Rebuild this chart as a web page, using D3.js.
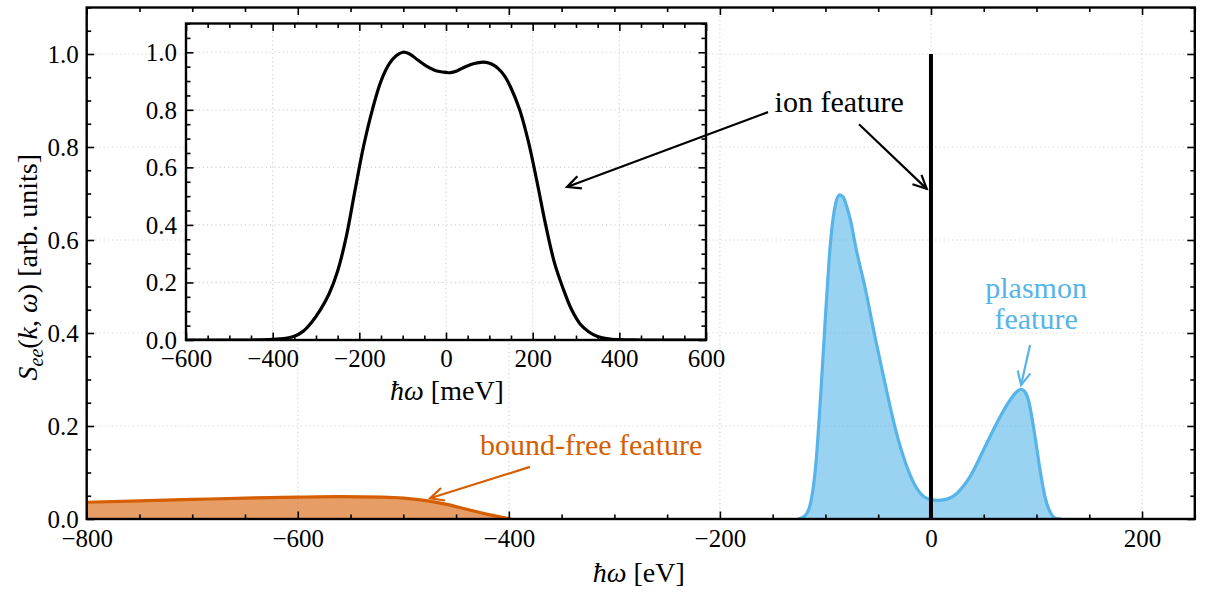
<!DOCTYPE html>
<html><head><meta charset="utf-8">
<script src="https://cdn.jsdelivr.net/npm/d3@7"></script>
<style>
html,body{margin:0;padding:0;background:#fff;}
svg{display:block;}
svg text{font-family:"Liberation Serif","DejaVu Serif",serif;}
</style></head>
<body><svg id="c" width="1208" height="592"></svg>
<script>
// ---------- data ----------
const mainXTicks = [-800, -600, -400, -200, 0, 200];
const mainYTicks = [0, 0.2, 0.4, 0.6, 0.8, 1.0];
const insetXTicks = [-600, -400, -200, 0, 200, 400, 600];
const insetYTicks = [0, 0.2, 0.4, 0.6, 0.8, 1.0];

// bound-free feature (eV, S)
const boundFreeX = [-800, -750, -700, -650, -600, -560, -520, -500, -480, -460, -440, -420, -405, -398];
const boundFreeY = [0.036, 0.039, 0.042, 0.045, 0.047, 0.048, 0.047, 0.045, 0.040, 0.032, 0.021, 0.010, 0.003, 0.0];

// plasmon feature (eV, S)
const plasmonX = [-126, -119, -115, -112, -109, -104.6, -99.8, -95, -90.3, -86.5, -83, -80.8, -76, -71.4, -61.9, -52.4, -42.9, -33.4, -24, -14.5, -3.5, 6, 11.8, 24.4, 37, 49.7, 62.3, 75, 82, 85.1, 88.5, 92.3, 98.6, 103.4, 108, 114.4, 119, 124];
const plasmonY = [0, 0.008, 0.026, 0.06, 0.12, 0.263, 0.442, 0.6, 0.679, 0.697, 0.692, 0.679, 0.64, 0.586, 0.492, 0.385, 0.285, 0.191, 0.12, 0.07, 0.044, 0.040, 0.041, 0.055, 0.091, 0.148, 0.206, 0.256, 0.275, 0.279, 0.275, 0.256, 0.177, 0.105, 0.048, 0.009, 0.001, 0];

// ion feature (delta-like line at 0 eV)
const ionX = [0, 0];
const ionY = [0, 1.0];

// inset: ion feature (meV, S)
const insetX = [-600, -450, -400, -370, -350, -330, -310, -290, -270, -250, -230, -210, -190, -170, -150, -130, -115, -100, -85, -65, -45, -25, 0, 10, 25, 45, 65, 80, 92, 105, 120, 135, 150, 170, 190, 210, 230, 250, 270, 290, 310, 330, 350, 370, 400, 450, 600];
const insetY = [0, 0, 0.002, 0.006, 0.013, 0.03, 0.062, 0.105, 0.16, 0.24, 0.36, 0.52, 0.675, 0.80, 0.90, 0.962, 0.988, 1.0, 0.995, 0.973, 0.952, 0.937, 0.930, 0.929, 0.935, 0.950, 0.961, 0.965, 0.965, 0.959, 0.944, 0.918, 0.876, 0.80, 0.69, 0.55, 0.40, 0.27, 0.18, 0.105, 0.055, 0.028, 0.012, 0.005, 0.001, 0, 0];

// ---------- colours ----------
const ORANGE = "#D55E00", BLUE = "#56B4E9";

// ---------- layout ----------
const svg = d3.select("#c");
const M = {l: 86.7, r: 1194.8, t: 7.5, b: 519};
const I = {l: 186, r: 706, t: 23.5, b: 340};

const x = d3.scaleLinear().domain([-800, 250]).range([M.l, M.r]);
const y = d3.scaleLinear().domain([0, 1.1]).range([M.b, M.t]);
const xi = d3.scaleLinear().domain([-600, 600]).range([I.l, I.r]);
const yi = d3.scaleLinear().domain([0, 1.1]).range([I.b, I.t]);

const defs = svg.append("defs");
defs.append("clipPath").attr("id", "clipM").append("rect")
  .attr("x", M.l).attr("y", M.t).attr("width", M.r - M.l).attr("height", M.b - M.t);
defs.append("clipPath").attr("id", "clipI").append("rect")
  .attr("x", I.l).attr("y", I.t).attr("width", I.r - I.l).attr("height", I.b - I.t);

const GRID = "#d2d2d2";
function grid(g, xs, ys, xt, yt, box) {
  g.selectAll(".gx").data(xt).join("line")
    .attr("x1", d => xs(d)).attr("x2", d => xs(d)).attr("y1", box.t).attr("y2", box.b)
    .attr("stroke", GRID).attr("stroke-width", 1.2).attr("stroke-dasharray", "1.2,3");
  g.selectAll(".gy").data(yt).join("line")
    .attr("y1", d => ys(d)).attr("y2", d => ys(d)).attr("x1", box.l).attr("x2", box.r)
    .attr("stroke", GRID).attr("stroke-width", 1.2).attr("stroke-dasharray", "1.2,3");
}

grid(svg.append("g"), x, y, mainXTicks, mainYTicks, M);

const zipBF = boundFreeX.map((d, i) => [d, boundFreeY[i]]);
const zipPl = plasmonX.map((d, i) => [d, plasmonY[i]]);
const zipIn = insetX.map((d, i) => [d, insetY[i]]);

const plot = svg.append("g").attr("clip-path", "url(#clipM)");
const curve = d3.curveMonotoneX;
plot.append("path").datum(zipBF)
  .attr("d", d3.area().x(d => x(d[0])).y0(y(0)).y1(d => y(d[1])).curve(curve))
  .attr("fill", ORANGE).attr("fill-opacity", 0.6);
plot.append("path").datum(zipBF)
  .attr("d", d3.line().x(d => x(d[0])).y(d => y(d[1])).curve(curve))
  .attr("fill", "none").attr("stroke", ORANGE).attr("stroke-width", 3.2);
plot.append("path").datum(zipPl)
  .attr("d", d3.area().x(d => x(d[0])).y0(y(0)).y1(d => y(d[1])).curve(curve))
  .attr("fill", BLUE).attr("fill-opacity", 0.6);
plot.append("path").datum(zipPl)
  .attr("d", d3.line().x(d => x(d[0])).y(d => y(d[1])).curve(curve))
  .attr("fill", "none").attr("stroke", BLUE).attr("stroke-width", 3.2);
plot.append("line")
  .attr("x1", x(ionX[0])).attr("x2", x(ionX[1])).attr("y1", y(ionY[0])).attr("y2", y(ionY[1]))
  .attr("stroke", "#000").attr("stroke-width", 4);

const minus = s => s.replace("-", "\u2212");
function axes(g, xs, ys, box, xt, yt, xMinorStep, yMinorStep, xlabOff, ylabOff, fs) {
  const [x0, x1] = xs.domain(), [y0, y1] = ys.domain();
  const xm = d3.range(Math.ceil(x0 / xMinorStep) * xMinorStep, x1 + 1e-9, xMinorStep).filter(v => !xt.some(t => Math.abs(t - v) < 1e-9));
  const ym = d3.range(0, y1 + 1e-9, yMinorStep).filter(v => !yt.some(t => Math.abs(t - v) < 1e-9));
  const MAJ = 7.5, MIN = 4.5;
  const addAx = (axis, tr) => {
    const a = g.append("g").attr("transform", tr).call(axis);
    a.attr("font-family", null).attr("font-size", null);
    a.select(".domain").remove();
    a.selectAll(".tick line").attr("stroke", "#000").attr("stroke-width", 1.6);
    return a;
  };
  const b = addAx(d3.axisBottom(xs).tickValues(xt).tickSize(-MAJ).tickFormat(d => minus(d3.format("d")(d))), `translate(0,${box.b})`);
  b.selectAll(".tick text").attr("y", xlabOff).attr("dy", null).attr("font-size", fs).attr("fill", "#000");
  addAx(d3.axisBottom(xs).tickValues(xm).tickSize(-MIN).tickFormat(""), `translate(0,${box.b})`);
  addAx(d3.axisTop(xs).tickValues(xt).tickSize(-MAJ).tickFormat(""), `translate(0,${box.t})`);
  addAx(d3.axisTop(xs).tickValues(xm).tickSize(-MIN).tickFormat(""), `translate(0,${box.t})`);
  const l = addAx(d3.axisLeft(ys).tickValues(yt).tickSize(-MAJ).tickFormat(d3.format(".1f")), `translate(${box.l},0)`);
  l.selectAll(".tick text").attr("x", -ylabOff).attr("dy", "0.34em").attr("font-size", fs).attr("fill", "#000");
  addAx(d3.axisLeft(ys).tickValues(ym).tickSize(-MIN).tickFormat(""), `translate(${box.l},0)`);
  addAx(d3.axisRight(ys).tickValues(yt).tickSize(-MAJ).tickFormat(""), `translate(${box.r},0)`);
  addAx(d3.axisRight(ys).tickValues(ym).tickSize(-MIN).tickFormat(""), `translate(${box.r},0)`);
  g.append("rect").attr("x", box.l).attr("y", box.t).attr("width", box.r - box.l).attr("height", box.b - box.t)
    .attr("fill", "none").attr("stroke", "#000").attr("stroke-width", 2.4);
}

axes(svg.append("g"), x, y, M, mainXTicks, mainYTicks, 50, 0.05, 28, 8, 25);

svg.append("text").attr("x", (M.l + M.r) / 2 - 2).attr("y", 582).attr("text-anchor", "middle")
  .attr("font-size", 28)
  .html('<tspan font-style="italic">ħω</tspan> [eV]');
svg.append("text").attr("transform", `translate(37,${(M.t + M.b) / 2 + 4}) rotate(-90)`)
  .attr("text-anchor", "middle").attr("font-size", 28)
  .html('<tspan font-style="italic">S</tspan><tspan font-style="italic" font-size="20" dy="6">ee</tspan><tspan dy="-6">(</tspan><tspan font-style="italic">k</tspan>, <tspan font-style="italic">ω</tspan>) [arb. units]');

// ---------- inset ----------
const ig = svg.append("g");
ig.append("rect").attr("x", I.l).attr("y", I.t).attr("width", I.r - I.l).attr("height", I.b - I.t).attr("fill", "#fff");
grid(ig.append("g"), xi, yi, insetXTicks, insetYTicks, I);
ig.append("g").attr("clip-path", "url(#clipI)").append("path").datum(zipIn)
  .attr("d", d3.line().x(d => xi(d[0])).y(d => yi(d[1])).curve(d3.curveCatmullRom.alpha(0.5)))
  .attr("fill", "none").attr("stroke", "#000").attr("stroke-width", 3.2);
axes(ig.append("g"), xi, yi, I, insetXTicks, insetYTicks, 50, 0.05, 27, 9, 25);
ig.append("text").attr("x", (I.l + I.r) / 2 + 1).attr("y", 400).attr("text-anchor", "middle")
  .attr("font-size", 28)
  .html('<tspan font-style="italic">ħω</tspan> [meV]');

// ---------- annotations ----------
function arrow(g, tail, tip, color, w) {
  const x1 = x(tail[0]), y1 = y(tail[1]), x2 = x(tip[0]), y2 = y(tip[1]);
  const ang = Math.atan2(y2 - y1, x2 - x1), L = 15, A = 0.45;
  g.append("line").attr("x1", x1).attr("y1", y1).attr("x2", x2).attr("y2", y2)
    .attr("stroke", color).attr("stroke-width", w);
  g.append("path").attr("d", `M${x2 - L * Math.cos(ang - A)},${y2 - L * Math.sin(ang - A)}L${x2},${y2}L${x2 - L * Math.cos(ang + A)},${y2 - L * Math.sin(ang + A)}`)
    .attr("fill", "none").attr("stroke", color).attr("stroke-width", w);
}
const an = svg.append("g");
arrow(an, [-154.4, 0.875], [-344.9, 0.714], "#000", 2.2);
arrow(an, [-68.2, 0.849], [-4, 0.710], "#000", 2.2);
arrow(an, [-380, 0.112], [-474.6, 0.0445], ORANGE, 2.2);
arrow(an, [93.9, 0.374], [85.4, 0.288], BLUE, 2.2);

an.append("text").attr("x", x(-87)).attr("y", y(0.876)).attr("text-anchor", "middle")
  .attr("font-size", 30).attr("fill", "#000").text("ion feature");
an.append("text").attr("x", x(-322)).attr("y", y(0.138)).attr("text-anchor", "middle")
  .attr("font-size", 30).attr("fill", ORANGE).text("bound-free feature");
an.append("text").attr("x", x(99.6)).attr("y", y(0.475)).attr("text-anchor", "middle")
  .attr("font-size", 30).attr("fill", BLUE).text("plasmon");
an.append("text").attr("x", x(99.6)).attr("y", y(0.408)).attr("text-anchor", "middle")
  .attr("font-size", 30).attr("fill", BLUE).text("feature");
</script></body></html>
